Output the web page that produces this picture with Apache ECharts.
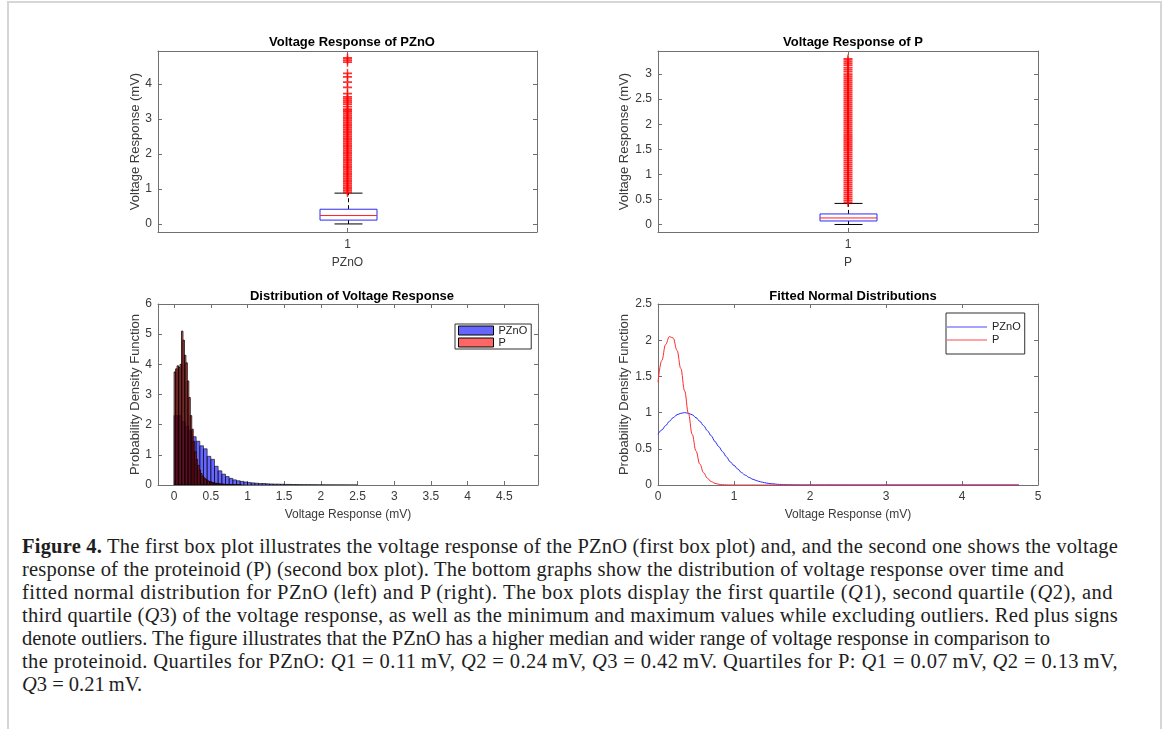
<!DOCTYPE html>
<html><head><meta charset="utf-8">
<script src="https://cdn.jsdelivr.net/npm/echarts@6/dist/echarts.min.js"></script>
<style>
html,body{margin:0;padding:0;background:#fff;width:1167px;height:729px;overflow:hidden;}
#frame{position:absolute;left:7px;top:1px;width:1151px;height:760px;border:2px solid #d6d6d6;border-bottom:none;}
#chart{position:absolute;left:0;top:0;width:1167px;height:530px;}
#caption{position:absolute;left:22px;top:535px;font-family:"Liberation Serif","Times New Roman",serif;font-size:20.5px;line-height:23px;color:#1e1e1e;}
#caption div{white-space:nowrap;width:max-content;}
</style></head><body>
<div id="frame"></div>
<div id="chart"></div>
<div id="caption">
<div class="ln"><b>Figure 4.</b> The first box plot illustrates the voltage response of the PZnO (first box plot) and, and the second one shows the voltage</div>
<div class="ln">response of the proteinoid (P) (second box plot). The bottom graphs show the distribution of voltage response over time and</div>
<div class="ln">fitted normal distribution for PZnO (left) and P (right). The box plots display the first quartile (<i>Q</i>1), second quartile (<i>Q</i>2), and</div>
<div class="ln">third quartile (<i>Q</i>3) of the voltage response, as well as the minimum and maximum values while excluding outliers. Red plus signs</div>
<div class="ln">denote outliers. The figure illustrates that the PZnO has a higher median and wider range of voltage response in comparison to</div>
<div class="ln">the proteinoid. Quartiles for PZnO: <i>Q</i>1 = 0.11&#8201;mV, <i>Q</i>2 = 0.24&#8201;mV, <i>Q</i>3 = 0.42&#8201;mV. Quartiles for P: <i>Q</i>1 = 0.07&#8201;mV, <i>Q</i>2 = 0.13&#8201;mV,</div>
<div><i>Q</i>3 = 0.21&#8201;mV.</div>
</div>
<script>
// ---------- data ----------
const boxCategories = ['1'];
// [lower whisker, Q1, median, Q3, upper whisker]
const pznoBox = [0, 0.11, 0.24, 0.42, 0.88];
const pBox = [0, 0.07, 0.13, 0.21, 0.42];
const pznoOutliers = [0.90,0.95,1.00,1.05,1.10,1.15,1.20,1.25,1.30,1.35,1.40,1.45,1.50,1.55,1.60,1.65,1.70,1.75,1.80,1.85,1.90,1.95,2.00,2.05,2.10,2.15,2.20,2.25,2.30,2.35,2.40,2.45,2.50,2.55,2.60,2.65,2.70,2.75,2.80,2.85,2.90,2.95,3.00,3.05,3.10,3.15,3.20,3.24,3.28,3.35,3.42,3.48,3.53,3.58,3.63,3.72,3.90,4.05,4.20,4.30,4.62,4.68,4.74];
const pOutliers = [0.44,0.48,0.52,0.56,0.60,0.64,0.68,0.72,0.76,0.80,0.84,0.88,0.92,0.96,1.00,1.04,1.08,1.12,1.16,1.20,1.24,1.28,1.32,1.36,1.40,1.44,1.48,1.52,1.56,1.60,1.64,1.68,1.72,1.76,1.80,1.84,1.88,1.92,1.96,2.00,2.04,2.08,2.12,2.16,2.20,2.24,2.28,2.32,2.36,2.40,2.44,2.48,2.52,2.56,2.60,2.64,2.68,2.72,2.76,2.80,2.84,2.88,2.92,2.96,3.00,3.05,3.09,3.13,3.18,3.22,3.26,3.30];

const pznoBinWidth = 0.05;
const pznoHist = [2.30,2.30,2.10,1.95,1.80,1.60,1.45,1.30,1.20,0.95,0.85,0.62,0.47,0.36,0.28,0.22,0.17,0.14,0.12,0.10,0.08,0.07,0.06,0.05,0.05,0.04,0.035,0.03,0.03,0.025,0.02,0.02,0.015,0.015,0.012,0.01,0.01,0.008,0.008,0.006,0.006,0.005,0.005,0.004,0.004,0.003,0.003,0.002,0.002,0.002];
const pBinWidth = 0.02;
const pHist = [3.75,3.85,3.95,3.90,4.00,5.10,4.80,4.30,4.05,3.45,2.90,2.30,1.85,1.45,1.10,0.85,0.65,0.50,0.38,0.30,0.24,0.20,0.16,0.13,0.11,0.09,0.08,0.07,0.06,0.05,0.045,0.04,0.035,0.03,0.025,0.02,0.02,0.015,0.015,0.012,0.01,0.01,0.008,0.006,0.005,0.004];

const fitX = [0,0.05,0.1,0.15,0.2,0.25,0.3,0.35,0.4,0.45,0.5,0.55,0.6,0.65,0.7,0.75,0.8,0.85,0.9,0.95,1.0,1.05,1.1,1.15,1.2,1.25,1.3,1.35,1.4,1.45,1.5,1.6,1.7,1.8,1.9,2.0,2.5,3.0,3.5,4.0,4.5,4.75];
const fitPZnO = [0.70,0.76,0.82,0.88,0.93,0.97,0.99,1.00,0.99,0.97,0.93,0.88,0.82,0.75,0.68,0.60,0.53,0.46,0.39,0.32,0.27,0.22,0.17,0.135,0.104,0.079,0.059,0.044,0.032,0.023,0.016,0.008,0.0035,0.0015,0.0005,0.0002,0,0,0,0,0,0];
const fitP = [1.42,1.72,1.94,2.05,2.03,1.86,1.61,1.30,0.99,0.70,0.47,0.29,0.17,0.093,0.047,0.023,0.010,0.004,0.002,0.001,0,0,0,0,0,0,0,0,0,0,0,0,0,0,0,0,0,0,0,0,0,0];

const pznoBoxTicks = [0,1,2,3,4];
const pBoxTicks = [0,0.5,1,1.5,2,2.5,3];
const histXTicks = [0,0.5,1,1.5,2,2.5,3,3.5,4,4.5];

// ---------- styling helpers ----------
const AX = '#707070', LB = '#3a3a3a';
const FONT = '"Liberation Sans", Arial, Helvetica, sans-serif';
const tick = {show:true, inside:true, length:4, lineStyle:{color:AX}};
const line = {show:true, onZero:false, lineStyle:{color:AX, width:1}};
const lbl = {color:LB, fontSize:12, fontFamily:FONT, rotate:0};

function valAxis(o){
  const a = Object.assign({type:'value', axisLine:line, splitLine:{show:false},
    axisTick:Object.assign({}, tick), axisLabel:Object.assign({}, lbl)}, o);
  if (o.custom){
    a.axisTick = Object.assign({}, tick, {customValues:o.custom});
    a.axisLabel = Object.assign({}, lbl, {customValues:o.custom, margin:o.margin||6});
    delete a.custom;
  }
  if (o.mirror){
    a.axisLabel = Object.assign({}, a.axisLabel, {show:false});
    delete a.mirror;
  }
  if (o.margin && !o.custom) { a.axisLabel.margin = o.margin; }
  delete a.margin;
  return a;
}
function catAxis(o){
  return Object.assign({type:'category', data:boxCategories, boundaryGap:true,
    axisLine:line, splitLine:{show:false},
    axisTick:Object.assign({}, tick, {alignWithLabel:true}),
    axisLabel:Object.assign({}, lbl, {margin:7})}, o);
}
const nameX = {color:LB, fontSize:12, fontFamily:FONT};
const nameY = {color:LB, fontSize:13, fontFamily:FONT};

// ---------- renderers ----------
function boxRender(params, api){
  const x = api.value(0);
  const lo = api.coord([x, api.value(1)]);
  const q1 = api.coord([x, api.value(2)]);
  const md = api.coord([x, api.value(3)]);
  const q3 = api.coord([x, api.value(4)]);
  const hi = api.coord([x, api.value(5)]);
  const cx = Math.round(lo[0]) + 0.5, half = 28.5, cap = 14;
  return {type:'group', children:[
    {type:'line', shape:{x1:cx,y1:q3[1],x2:cx,y2:hi[1]}, style:{stroke:'#000',lineWidth:1,lineDash:[4,3]}},
    {type:'line', shape:{x1:cx,y1:q1[1],x2:cx,y2:lo[1]}, style:{stroke:'#000',lineWidth:1,lineDash:[4,3]}},
    {type:'line', shape:{x1:cx-cap,y1:hi[1],x2:cx+cap,y2:hi[1]}, style:{stroke:'#000',lineWidth:1}},
    {type:'line', shape:{x1:cx-cap,y1:lo[1],x2:cx+cap,y2:lo[1]}, style:{stroke:'#000',lineWidth:1}},
    {type:'rect', shape:{x:cx-half,y:q3[1],width:2*half,height:q1[1]-q3[1]}, style:{fill:'#fff',stroke:'#2a2aff',lineWidth:1}},
    {type:'line', shape:{x1:cx-half,y1:md[1],x2:cx+half,y2:md[1]}, style:{stroke:'#ff2020',lineWidth:1}}
  ]};
}
function histRender(fill, lw){
  return function(params, api){
    const a = api.coord([api.value(0), api.value(2)]);
    const b = api.coord([api.value(1), 0]);
    return {type:'rect', shape:{x:a[0], y:a[1], width:b[0]-a[0], height:b[1]-a[1]},
      style:{fill:fill, stroke:'#000', lineWidth:lw}};
  };
}
const plusSym = 'path://M0,4H10V6H0ZM4.2,0H5.8V10H4.2Z';

const G = [
  {left:158, top:51, width:379, height:181},
  {left:658, top:51, width:380, height:181},
  {left:158, top:304, width:380, height:181},
  {left:658, top:304, width:380, height:181}
];
const titleStyle = {fontSize:13,fontWeight:'bold',color:'#000',fontFamily:FONT};

const option = {
  animation:false,
  textStyle:{fontFamily:FONT},
  title:[
    {text:'Voltage Response of PZnO', left:347, top:31, textAlign:'center', textStyle:titleStyle},
    {text:'Voltage Response of P', left:848, top:31, textAlign:'center', textStyle:titleStyle},
    {text:'Distribution of Voltage Response', left:347, top:285, textAlign:'center', textStyle:titleStyle},
    {text:'Fitted Normal Distributions', left:848, top:285, textAlign:'center', textStyle:titleStyle}
  ],
  grid:G,
  legend:[
    {left:455, top:324, orient:'vertical', itemWidth:35, itemHeight:9, itemGap:1,
     padding:[1,4,1,3], borderColor:'#303030', borderWidth:1, backgroundColor:'#fff',
     textStyle:{fontSize:11, color:'#222', lineHeight:9, fontFamily:FONT},
     formatter:function(n){return n.split('_')[0];},
     data:[
      {name:'PZnO_hist', icon:'rect', itemStyle:{color:'rgba(0,0,255,0.6)', borderColor:'#000', borderWidth:1}},
      {name:'P_hist', icon:'rect', itemStyle:{color:'rgba(255,0,0,0.6)', borderColor:'#000', borderWidth:1}}
     ]},
    {left:946, top:313, orient:'vertical', itemWidth:40, itemHeight:1, itemGap:1,
     padding:[8,4,8,1], borderColor:'#303030', borderWidth:1, backgroundColor:'#fff',
     textStyle:{fontSize:11, color:'#222', lineHeight:12, fontFamily:FONT},
     formatter:function(n){return n.split('_')[0];},
     data:[
      {name:'PZnO_fit', icon:'rect', itemStyle:{color:'#4a4aff', borderWidth:0}},
      {name:'P_fit', icon:'rect', itemStyle:{color:'#ff4a4a', borderWidth:0}}
     ]}
  ],
  xAxis:[
    catAxis({gridIndex:0, position:'bottom', name:'PZnO', nameLocation:'middle', nameGap:25, nameTextStyle:nameX}),
    catAxis({gridIndex:0, position:'top', axisLabel:{show:false}}),
    catAxis({gridIndex:1, position:'bottom', name:'P', nameLocation:'middle', nameGap:25, nameTextStyle:nameX}),
    catAxis({gridIndex:1, position:'top', axisLabel:{show:false}}),
    valAxis({gridIndex:2, position:'bottom', min:-0.22, max:4.96, custom:histXTicks, margin:6,
      name:'Voltage Response (mV)', nameLocation:'middle', nameGap:24, nameTextStyle:nameX}),
    valAxis({gridIndex:2, position:'top', min:-0.22, max:4.96, custom:histXTicks, mirror:true}),
    valAxis({gridIndex:3, position:'bottom', min:0, max:5, interval:1, margin:6,
      name:'Voltage Response (mV)', nameLocation:'middle', nameGap:24, nameTextStyle:nameX}),
    valAxis({gridIndex:3, position:'top', min:0, max:5, interval:1, mirror:true})
  ],
  yAxis:[
    valAxis({gridIndex:0, position:'left', min:-0.23, max:4.94, custom:pznoBoxTicks, margin:6,
      name:'Voltage Response (mV)', nameLocation:'middle', nameGap:15, nameTextStyle:nameY}),
    valAxis({gridIndex:0, position:'right', min:-0.23, max:4.94, custom:pznoBoxTicks, mirror:true}),
    valAxis({gridIndex:1, position:'left', min:-0.15, max:3.46, custom:pBoxTicks, margin:6,
      name:'Voltage Response (mV)', nameLocation:'middle', nameGap:26, nameTextStyle:nameY}),
    valAxis({gridIndex:1, position:'right', min:-0.15, max:3.46, custom:pBoxTicks, mirror:true}),
    valAxis({gridIndex:2, position:'left', min:0, max:6, interval:1, margin:6,
      name:'Probability Density Function', nameLocation:'middle', nameGap:16, nameTextStyle:nameY}),
    valAxis({gridIndex:2, position:'right', min:0, max:6, interval:1, mirror:true}),
    valAxis({gridIndex:3, position:'left', min:0, max:2.5, interval:0.5, margin:6,
      name:'Probability Density Function', nameLocation:'middle', nameGap:26, nameTextStyle:nameY}),
    valAxis({gridIndex:3, position:'right', min:0, max:2.5, interval:0.5, mirror:true})
  ],
  series:[
    {type:'custom', xAxisIndex:0, yAxisIndex:0, renderItem:boxRender, encode:{x:0, y:[1,2,3,4,5]},
     data:[[0].concat(pznoBox)], silent:true, z:2},
    {type:'scatter', xAxisIndex:0, yAxisIndex:0, symbol:plusSym, symbolSize:9, itemStyle:{color:'#ff0000'},
     data:pznoOutliers.map(v => [0, v]), silent:true, z:3},
    {type:'custom', xAxisIndex:2, yAxisIndex:2, renderItem:boxRender, encode:{x:0, y:[1,2,3,4,5]},
     data:[[0].concat(pBox)], silent:true, z:2},
    {type:'scatter', xAxisIndex:2, yAxisIndex:2, symbol:plusSym, symbolSize:9, itemStyle:{color:'#ff0000'},
     data:pOutliers.map(v => [0, v]), silent:true, z:3},
    {name:'PZnO_hist', type:'custom', xAxisIndex:4, yAxisIndex:4, renderItem:histRender('rgba(0,0,255,0.6)', 0.6),
     itemStyle:{color:'rgba(0,0,255,0.6)'}, encode:{x:[0,1], y:2}, clip:true,
     data:pznoHist.map((h,i) => [i*pznoBinWidth, (i+1)*pznoBinWidth, h]), z:2},
    {name:'P_hist', type:'custom', xAxisIndex:4, yAxisIndex:4, renderItem:histRender('rgba(255,0,0,0.6)', 0.8),
     itemStyle:{color:'rgba(255,0,0,0.6)'}, encode:{x:[0,1], y:2}, clip:true,
     data:pHist.map((h,i) => [i*pBinWidth, (i+1)*pBinWidth, h]), z:3},
    {name:'PZnO_fit', type:'line', xAxisIndex:6, yAxisIndex:6, symbol:'none', smooth:0.4, smoothMonotone:'x',
     lineStyle:{color:'#2a2aff', width:1}, itemStyle:{color:'#2a2aff'},
     data:fitX.map((x,i) => [x, fitPZnO[i]]), z:2},
    {name:'P_fit', type:'line', xAxisIndex:6, yAxisIndex:6, symbol:'none', smooth:0.4, smoothMonotone:'x',
     lineStyle:{color:'#ff2a2a', width:1}, itemStyle:{color:'#ff2a2a'},
     data:fitX.map((x,i) => [x, fitP[i]]), z:3}
  ]
};
const chart = echarts.init(document.getElementById('chart'), null, {renderer:'canvas'});
chart.setOption(option);

// fit caption lines to the reference line lengths
const lineEnds = [1118, 1064, 1113, 1118, 1050, 1118];
document.querySelectorAll('#caption .ln').forEach(function(el, i){
  const w = el.getBoundingClientRect().width;
  const n = el.textContent.length;
  el.style.letterSpacing = ((lineEnds[i] - 22 - w) / n).toFixed(3) + 'px';
});
</script>
</body></html>
